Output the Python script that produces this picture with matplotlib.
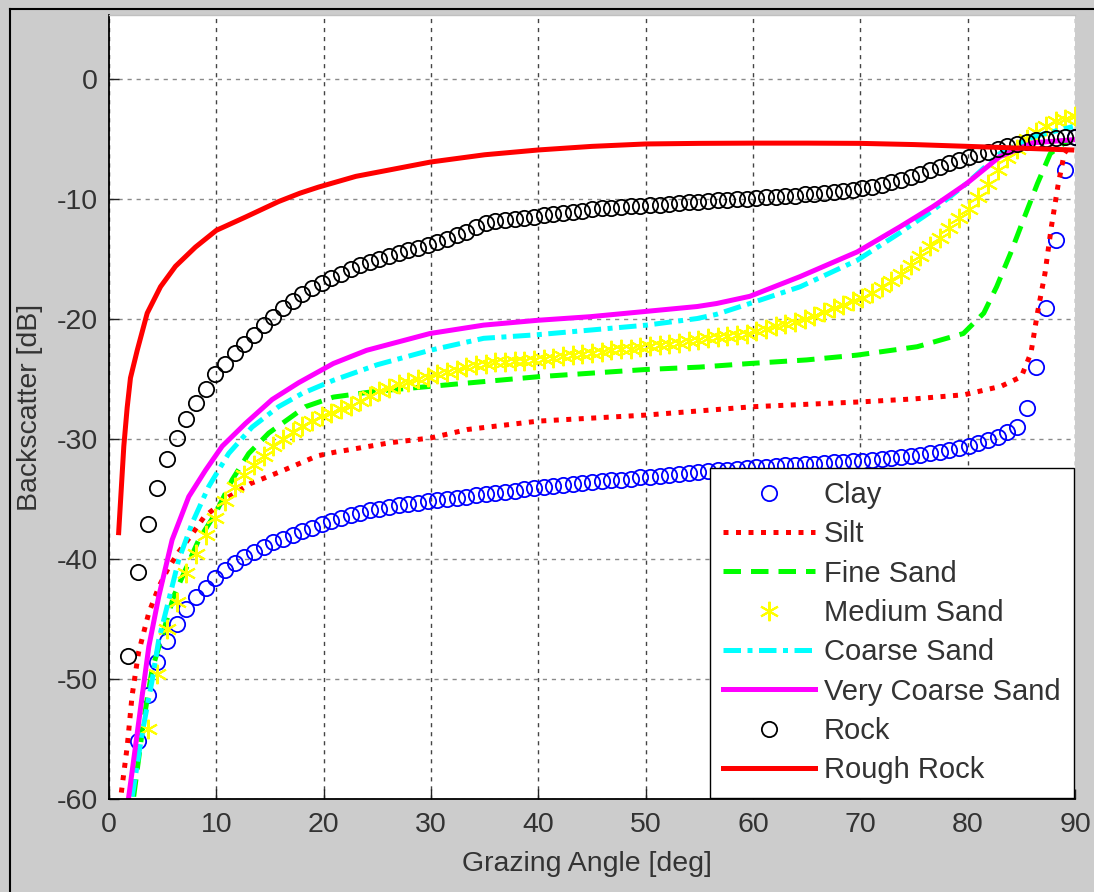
import numpy as np
import matplotlib
matplotlib.use('Agg')
import matplotlib.pyplot as plt
from matplotlib.lines import Line2D

plt.rcParams['font.family'] = ['Liberation Sans', 'DejaVu Sans']
plt.rcParams['axes.unicode_minus'] = False

# marker series are sampled every 0.9 deg (k * 0.9)
step = 0.9

clay_angle = np.arange(3, 101) * step
clay = [-55.2, -51.3, -48.6, -46.8, -45.4, -44.2, -43.2, -42.4, -41.6, -40.9,
        -40.3, -39.8, -39.4, -39.0, -38.6, -38.3, -38.0, -37.7, -37.4, -37.1,
        -36.8, -36.55, -36.35, -36.15, -35.95, -35.8, -35.65, -35.5, -35.4, -35.3,
        -35.2, -35.1, -35.0, -34.9, -34.8, -34.7, -34.6, -34.5, -34.4, -34.3,
        -34.2, -34.1, -34.0, -33.9, -33.8, -33.75, -33.7, -33.6, -33.5, -33.45,
        -33.4, -33.3, -33.2, -33.15, -33.05, -33.0, -32.9, -32.85, -32.75, -32.7,
        -32.6, -32.55, -32.5, -32.4, -32.35, -32.3, -32.25, -32.2, -32.15, -32.1,
        -32.05, -32.0, -31.95, -31.9, -31.85, -31.8, -31.75, -31.7, -31.6, -31.5,
        -31.4, -31.3, -31.2, -31.05, -30.9, -30.75, -30.55, -30.35, -30.1, -29.8,
        -29.45, -29.0, -27.4, -24.0, -19.1, -13.4, -7.6, -4.8]

rock_angle = np.arange(2, 101) * step
rock = [-48.1, -41.1, -37.1, -34.1, -31.7, -29.9, -28.3, -27.0, -25.8, -24.6,
        -23.7, -22.8, -22.1, -21.3, -20.5, -19.8, -19.1, -18.5, -17.9, -17.4,
        -17.0, -16.6, -16.2, -15.8, -15.5, -15.2, -14.95, -14.7, -14.45, -14.25,
        -14.05, -13.85, -13.6, -13.3, -13.0, -12.7, -12.3, -12.0, -11.85, -11.75,
        -11.65, -11.55, -11.45, -11.35, -11.25, -11.15, -11.05, -10.95, -10.85, -10.75,
        -10.7, -10.65, -10.6, -10.55, -10.5, -10.45, -10.4, -10.3, -10.25, -10.2,
        -10.15, -10.1, -10.05, -10.0, -9.95, -9.9, -9.85, -9.8, -9.75, -9.7,
        -9.6, -9.55, -9.45, -9.4, -9.3, -9.2, -9.1, -8.95, -8.8, -8.6,
        -8.4, -8.15, -7.9, -7.6, -7.3, -7.0, -6.7, -6.45, -6.25, -6.05,
        -5.85, -5.6, -5.4, -5.25, -5.1, -5.0, -4.9, -4.85, -4.8]

medium_angle = np.arange(4, 101) * step
medium_sand = [-54.2, -49.6, -45.8, -43.6, -41.2, -39.6, -38.0, -36.6, -35.2, -34.0,
               -33.0, -32.2, -31.4, -30.6, -30.0, -29.4, -28.95, -28.5, -28.1, -27.8,
               -27.5, -27.2, -26.8, -26.4, -26.0, -25.7, -25.4, -25.2, -25.0, -24.8,
               -24.6, -24.4, -24.2, -24.0, -23.8, -23.7, -23.6, -23.55, -23.5, -23.45,
               -23.4, -23.3, -23.2, -23.1, -23.0, -22.9, -22.8, -22.7, -22.6, -22.5,
               -22.45, -22.35, -22.25, -22.15, -22.05, -21.95, -21.85, -21.7, -21.6, -21.5,
               -21.4, -21.3, -21.2, -21.0, -20.8, -20.6, -20.4, -20.2, -20.0, -19.7,
               -19.4, -19.1, -18.8, -18.5, -18.2, -17.8, -17.3, -16.8, -16.2, -15.5,
               -14.7, -13.9, -13.2, -12.4, -11.6, -10.8, -9.8, -8.7, -7.6, -6.6,
               -5.8, -5.0, -4.4, -3.9, -3.5, -3.3, -3.1]

silt_angle = [1.0, 1.7, 2.15, 2.75, 3.7, 4.65, 5.5, 6.5, 7.6, 8.85, 11.2, 13.2, 16.0,
              19.4, 21.0, 26.2, 30.0, 33.4, 40.0, 50.0, 55.0, 60.0, 70.0, 75.0, 79.7,
              83.1, 85.0, 85.9, 86.5, 87.2, 87.8, 88.4, 89.0, 89.7]
silt = [-60.5, -55.6, -51.4, -47.8, -44.5, -42.3, -40.8, -39.4, -38.1, -36.5, -34.8,
        -33.7, -32.7, -31.4, -31.1, -30.3, -29.9, -29.2, -28.5, -28.0, -27.65, -27.3,
        -26.9, -26.65, -26.3, -25.6, -24.8, -22.8, -19.5, -16.2, -12.3, -8.95, -6.2, -5.3]

fine_angle = [2.3, 3.24, 4.02, 4.95, 6.03, 7.12, 8.36, 9.92, 11.47, 13.02, 14.88, 17.06,
              18.3, 20.9, 25.0, 30.0, 35.0, 40.0, 45.0, 50.0, 55.0, 59.7, 65.0, 69.7,
              75.3, 79.6, 81.5, 82.7, 84.0, 85.2, 86.5, 87.7, 89.5]
fine_sand = [-59.8, -53.4, -49.2, -46.4, -43.1, -40.9, -38.4, -36.2, -33.4, -31.2, -29.5,
             -28.1, -27.3, -26.5, -26.0, -25.6, -25.2, -24.8, -24.5, -24.2, -24.0, -23.7,
             -23.4, -23.0, -22.3, -21.2, -19.5, -17.3, -14.5, -11.7, -8.7, -6.2, -5.0]

coarse_angle = [2.16, 3.09, 4.02, 4.64, 5.57, 6.5, 7.75, 9.29, 11.15, 13.33, 15.8, 17.99,
                20.9, 25.0, 29.9, 34.9, 39.9, 45.0, 50.1, 54.8, 56.6, 59.7, 64.4, 69.7,
                73.7, 76.8, 79.9, 83.0, 86.1, 89.8]
coarse_sand = [-59.8, -54.5, -50.1, -46.7, -43.4, -40.05, -37.0, -33.95, -31.2, -29.0,
               -27.3, -26.2, -25.1, -23.8, -22.6, -21.6, -21.3, -20.9, -20.5, -19.95,
               -19.6, -18.7, -17.3, -15.1, -12.8, -10.9, -8.7, -6.2, -4.8, -3.95]

vcoarse_angle = [1.84, 2.47, 3.09, 3.71, 4.64, 5.88, 7.43, 8.99, 10.54, 12.71, 15.2, 17.67,
                 20.9, 24.0, 29.9, 34.9, 39.9, 44.8, 50.1, 54.8, 56.6, 59.7, 64.4, 69.7,
                 73.7, 76.8, 79.9, 83.0, 86.1, 89.8]
very_coarse_sand = [-59.8, -55.6, -51.4, -47.3, -43.1, -38.4, -34.8, -32.6, -30.6, -28.7,
                    -26.7, -25.3, -23.7, -22.6, -21.2, -20.5, -20.1, -19.8, -19.35, -18.95,
                    -18.7, -18.1, -16.45, -14.4, -12.3, -10.6, -8.7, -6.45, -5.3, -5.05]

rough_angle = [0.9, 1.38, 1.69, 2.0, 2.63, 3.56, 4.8, 6.19, 8.05, 10.0, 12.7, 15.8, 17.8,
               19.5, 23.0, 26.5, 30.0, 35.0, 40.0, 45.0, 50.0, 55.0, 60.0, 65.0, 70.0,
               75.0, 80.0, 85.0, 89.7]
rough_rock = [-37.8, -30.6, -27.4, -24.9, -22.6, -19.5, -17.3, -15.6, -14.0, -12.6, -11.5,
              -10.2, -9.5, -9.0, -8.1, -7.5, -6.9, -6.3, -5.9, -5.6, -5.4, -5.35, -5.33,
              -5.33, -5.35, -5.45, -5.6, -5.75, -5.9]

fig = plt.figure(figsize=(10.94, 8.92), dpi=100, facecolor='#cccccc')
ax = fig.add_axes([109 / 1094, 1 - 799 / 892, 966 / 1094, 784 / 892])
ax.set_facecolor('white')

lw = 3.6
ax.plot(clay_angle, clay, 'o', mfc='none', mec='#0000ff', ms=11, mew=1.3, label='Clay')
ax.plot(silt_angle, silt, color='#ff0000', lw=lw, dashes=(1, 1.5), label='Silt')
ax.plot(fine_angle, fine_sand, color='#00ff00', lw=lw, dashes=(3.5, 2), label='Fine Sand')
ax.plot(medium_angle, medium_sand, ls='none', marker=(6, 2, 0), color='#ffff00',
        mec='#ffff00', ms=14, mew=1.5, label='Medium Sand')
ax.plot(coarse_angle, coarse_sand, color='#00ffff', lw=lw, dashes=(3.5, 1.3, 1, 1.3),
        label='Coarse Sand')
ax.plot(vcoarse_angle, very_coarse_sand, color='#ff00ff', lw=lw, label='Very Coarse Sand')
ax.plot(rock_angle, rock, 'o', mfc='none', mec='black', ms=11, mew=1.3, label='Rock')
ax.plot(rough_angle, rough_rock, color='#ff0000', lw=lw, label='Rough Rock')

ax.set_xlim(0, 90)
ax.set_ylim(-60, 5.35)
ax.set_xticks(range(0, 91, 10))
ax.set_yticks(range(-60, 1, 10))

ax.xaxis.grid(True, color='#444444', lw=1.0, dashes=(3, 3.5))
ax.yaxis.grid(True, color='#8a8a8a', lw=1.0, dashes=(3, 3.5))
ax.set_axisbelow(True)

ax.spines['right'].set_visible(False)
ax.spines['top'].set_color('#c0c0c0')
ax.spines['top'].set_linewidth(1.0)
ax.spines['left'].set_linewidth(1.3)
ax.spines['bottom'].set_linewidth(1.3)
ax.tick_params(direction='in', length=7, width=1, color='#222222',
               labelsize=20.5, labelcolor='#333333', top=False, right=False)
ax.tick_params(axis='y', pad=8)
ax.tick_params(axis='x', pad=9)

ax.set_xlabel('Grazing Angle [deg]', fontsize=20.5, color='#333333')
ax.set_ylabel('Backscatter [dB]', fontsize=20.5, color='#333333')
ax.xaxis.set_label_coords(0.495, -0.066)
ax.yaxis.set_label_coords(-0.068, 0.5)

leg = ax.legend(loc='lower right', bbox_to_anchor=(1.0, 0.0), borderaxespad=0.05,
                fontsize=21, frameon=True, fancybox=False, edgecolor='black',
                framealpha=1, handlelength=3.15, handletextpad=0.3, labelspacing=0.39,
                borderpad=0.45, numpoints=1)
leg.get_frame().set_linewidth(1.0)
for t in leg.get_texts():
    t.set_color('#333333')

# outer frame of the window
fig.add_artist(Line2D([9.5 / 1094, 9.5 / 1094], [0, 1 - 8.5 / 892],
                      transform=fig.transFigure, color='black', lw=1.5))
fig.add_artist(Line2D([9.5 / 1094, 1], [1 - 8.5 / 892, 1 - 8.5 / 892],
                      transform=fig.transFigure, color='black', lw=1.5))

fig.savefig('out.png', dpi=100, facecolor=fig.get_facecolor())
